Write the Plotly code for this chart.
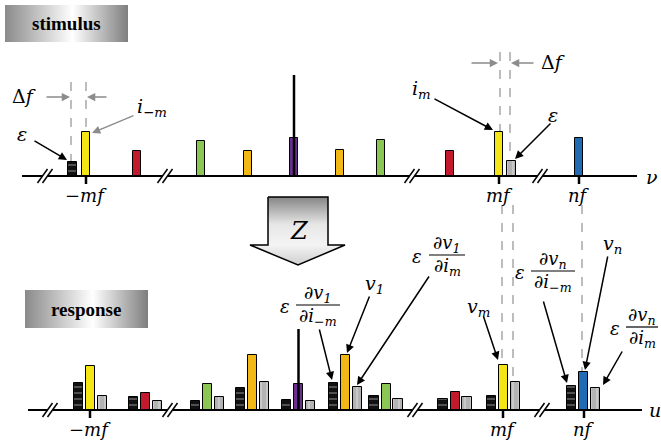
import plotly.graph_objects as go

# ---------------------------------------------------------------- data
# stimulus spectrum: tone positions (frequency slots) and amplitudes
stim_x = [86, 137, 201, 248, 294, 340, 381, 450, 499, 579]
stim_amp = [44, 25, 35, 25, 38, 26, 36, 25, 44, 38]
stim_tone = ["yellow", "red", "green", "orange", "purple", "orange", "green", "red", "yellow", "blue"]
# small perturbation tones (epsilon) next to -mf and mf
eps_x = [72.5, 511.5]
eps_amp = [14, 15]
eps_kind = ["lower", "upper"]
stim_dc_x = 294
stim_dc_amp = 101

# response spectrum: each tone with lower / upper sidebands
resp_x = [90.5, 145.5, 207.5, 252.5, 298.5, 345.5, 386, 455, 503.5, 583.5]
resp_amp = [44, 17, 26, 55, 26, 55, 26, 18, 45, 38]
resp_tone = stim_tone
resp_lower_amp = [27, 13, 9, 22, 10, 27, 14, 11, 14, 24]
resp_upper_amp = [14, 9, 13, 28, 9, 23, 11, 13, 28, 22]
resp_dc_x = 298.5
resp_dc_amp = 81

# axis breaks and tick labels
stim_breaks = [45, 165, 412, 540]
resp_breaks = [50, 170, 415, 542]
stim_ticks = {86: "−mf", 499: "mf", 579: "nf"}
resp_ticks = {90: "−mf", 503: "mf", 584: "nf"}

# ---------------------------------------------------------------- styles
W, H = 661, 443
TONE_COLORS = {
    "yellow": "#f3e516", "red": "#c21a2c", "green": "#8cc653",
    "orange": "#f2b816", "purple": "#6a2e8e", "blue": "#1f6cb5",
}
LOWER = dict(color="#111111", pattern=dict(shape="-", fgcolor="white", size=6, solidity=0.18))
UPPER = dict(color="#b3b3b3", pattern=dict(shape="|", fgcolor="white", size=6, solidity=0.18))
MATH = "'DejaVu Serif', 'Liberation Serif', serif"
BOX_FONT = "'Liberation Serif', 'Times New Roman', serif"


def Y(p):
    """screen-row to y value (y grows upward)"""
    return H - p


STIM_BASE = Y(176)
RESP_BASE = Y(410)

fig = go.Figure()
shapes = []
ann = []


def line(x0, y0, x1, y1, color="black", width=2, dash=None, layer="above"):
    shapes.append(dict(type="line", xref="x", yref="y", x0=x0, y0=Y(y0), x1=x1, y1=Y(y1),
                       line=dict(color=color, width=width, dash=dash), layer=layer))


def text(x, y, s, size=16, color="black", family=MATH, italic=True, **kw):
    ann.append(dict(x=x, y=Y(y), xref="x", yref="y", text=f"<i>{s}</i>" if italic else s,
                    showarrow=False, font=dict(family=family, size=size, color=color), **kw))


def arrow(tail, head, color="black", width=1.5):
    ann.append(dict(x=head[0], y=Y(head[1]), ax=tail[0], ay=Y(tail[1]), xref="x", yref="y",
                    axref="x", ayref="y", text="", showarrow=True, arrowhead=2, arrowsize=1.1,
                    arrowwidth=width, arrowcolor=color))


def frac(xc, yb, num, den, half, eps_dx):
    text(xc, yb - 11, num, size=18)
    text(xc, yb + 12, den, size=18)
    line(xc - half, yb, xc + half, yb, width=1.2)
    text(xc - half - eps_dx, yb + 1, "ε", size=18)


def axis(y, x0, x1, breaks, ticks):
    xs = [x0]
    for b in breaks:
        xs += [b - 2.5, b + 2.5]
    xs.append(x1)
    for a, b in zip(xs[0::2], xs[1::2]):
        line(a, y, b, y, width=2)
    for b in breaks:
        for off in (-2.5, 2.5):
            line(b + off - 5, y + 7, b + off + 5, y - 7, width=1.5)
    for tx, lab in ticks.items():
        line(tx, y, tx, y + 8, width=2.5)
        text(tx, y + 19, lab, size=18)


# ---------------------------------------------------------------- shaded boxes and transform arrow
def grad_poly(xs, ys, kind, scale, outline="rgba(0,0,0,0)", lw=0):
    fig.add_trace(go.Scatter(x=xs, y=[Y(v) for v in ys], mode="lines", fill="toself",
                             fillgradient=dict(type=kind, colorscale=scale),
                             line=dict(color=outline, width=lw), hoverinfo="skip", showlegend=False))


box_scale = [[0, "#8a8a8a"], [0.55, "#ffffff"], [1, "#7e7e7e"]]
grad_poly([5, 128, 128, 5, 5], [5, 5, 42, 42, 5], "horizontal", box_scale)
grad_poly([25, 148, 148, 25, 25], [290, 290, 328, 328, 290], "horizontal", box_scale)
text(66, 23, "<b>stimulus</b>", size=19, family=BOX_FONT, italic=False)
text(86, 309, "<b>response</b>", size=19, family=BOX_FONT, italic=False)

grad_poly([268, 328, 328, 345, 298, 250, 268, 268],
          [197, 197, 245, 245, 265, 245, 245, 197], "vertical",
          [[0, "#cfcfcf"], [0.3, "#f4f4f4"], [0.6, "#e6e6e6"], [1, "#858585"]],
          outline="black", lw=1.5)
text(299, 231, "Z", size=24)

# ---------------------------------------------------------------- dashed guides
for gx, g0, g1 in [(71, 82, 176), (86, 82, 176), (500, 52, 176), (510, 52, 176),
                   (502, 205, 410), (513, 205, 410), (582, 205, 410)]:
    line(gx, g0, gx, g1, color="#9a9a9a", width=1.3, dash="dash", layer="below")

# ---------------------------------------------------------------- spectra
fig.add_trace(go.Scatter(x=[stim_dc_x, stim_dc_x], y=[STIM_BASE, STIM_BASE + stim_dc_amp],
                         mode="lines", line=dict(color="black", width=2.5), showlegend=False))
fig.add_trace(go.Scatter(x=[resp_dc_x, resp_dc_x], y=[RESP_BASE, RESP_BASE + resp_dc_amp],
                         mode="lines", line=dict(color="black", width=2.5), showlegend=False))

outline = dict(color="black", width=1)
fig.add_trace(go.Bar(x=stim_x, y=stim_amp, base=STIM_BASE, width=8.5,
                     marker=dict(color=[TONE_COLORS[t] for t in stim_tone], line=outline),
                     showlegend=False))
for ex, ea, kind in zip(eps_x, eps_amp, eps_kind):
    style = LOWER if kind == "lower" else UPPER
    fig.add_trace(go.Bar(x=[ex], y=[ea], base=STIM_BASE, width=9,
                         marker=dict(**style, line=outline), showlegend=False))

fig.add_trace(go.Bar(x=[x - 12 for x in resp_x], y=resp_lower_amp, base=RESP_BASE, width=9.5,
                     marker=dict(**LOWER, line=outline), showlegend=False))
fig.add_trace(go.Bar(x=resp_x, y=resp_amp, base=RESP_BASE, width=9,
                     marker=dict(color=[TONE_COLORS[t] for t in resp_tone], line=outline),
                     showlegend=False))
fig.add_trace(go.Bar(x=[x + 12 for x in resp_x], y=resp_upper_amp, base=RESP_BASE, width=9.5,
                     marker=dict(**UPPER, line=outline), showlegend=False))

axis(176, 22, 637, stim_breaks, stim_ticks)
axis(410, 28, 642, resp_breaks, resp_ticks)
text(652, 177, "ν", size=19)
text(655, 410, "u", size=19)

# ---------------------------------------------------------------- stimulus labels
text(24, 96, "Δ<i>f</i>", size=19, italic=False)
arrow((45, 97), (70, 97), color="#8c8c8c")
arrow((108, 97), (87, 97), color="#8c8c8c")
text(553, 62, "Δ<i>f</i>", size=19, italic=False)
arrow((470, 63), (498, 63), color="#8c8c8c")
arrow((535, 63), (511, 63), color="#8c8c8c")

text(152, 107, "i<sub>−m</sub>", size=19)
arrow((135, 115), (92, 133), color="#8c8c8c")
text(22, 134, "ε", size=19)
arrow((33, 140), (67, 160))
text(421, 89, "i<sub>m</sub>", size=19)
arrow((433, 98), (493, 130))
text(553, 115, "ε", size=19)
arrow((552, 122), (515, 159))

# ---------------------------------------------------------------- response labels
frac(318, 305, "∂v<sub>1</sub>", "∂i<sub>−m</sub>", 22, 11)
arrow((319, 328), (332, 380))
text(374, 284, "v<sub>1</sub>", size=19)
arrow((370, 295), (347, 353))
frac(447, 255, "∂v<sub>1</sub>", "∂i<sub>m</sub>", 18, 12)
arrow((430, 275), (357, 385))
text(478, 307, "v<sub>m</sub>", size=19)
arrow((483, 315), (498, 360))
frac(553, 271, "∂v<sub>n</sub>", "∂i<sub>−m</sub>", 22, 11)
arrow((543, 300), (567, 383))
text(612, 244, "v<sub>n</sub>", size=19)
arrow((608, 255), (585, 370))
frac(642, 327, "∂v<sub>n</sub>", "∂i<sub>m</sub>", 16, 11)
arrow((623, 350), (603, 385))

fig.update_layout(
    width=W, height=H, margin=dict(l=0, r=0, t=0, b=0),
    paper_bgcolor="white", plot_bgcolor="white", barmode="overlay", bargap=0,
    xaxis=dict(range=[0, W], visible=False, fixedrange=True),
    yaxis=dict(range=[0, H], visible=False, fixedrange=True),
    shapes=shapes, annotations=ann, showlegend=False,
)
fig.write_html("out.html")
